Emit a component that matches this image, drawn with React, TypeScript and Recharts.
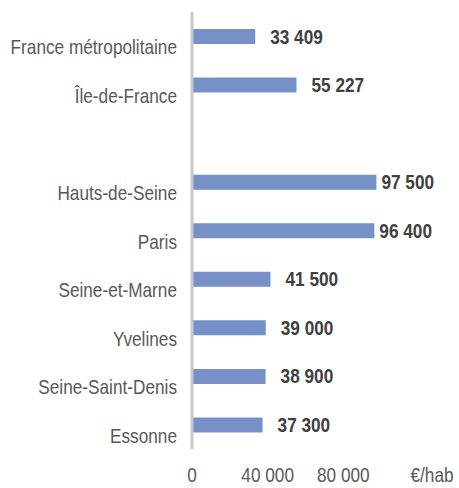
import { BarChart, Bar, XAxis, YAxis, LabelList } from "recharts"

const categories = [
    "France métropolitaine",
    "Île-de-France",
    "",
    "Hauts-de-Seine",
    "Paris",
    "Seine-et-Marne",
    "Yvelines",
    "Seine-Saint-Denis",
    "Essonne",
]
const values = [33409, 55227, null, 97500, 96400, 41500, 39000, 38900, 37300]
const xTicks = [0, 40000, 80000, 120000]
const unitLabel = "€/hab"

const data = categories.map((name, i) => ({ name, value: values[i] }))

// Arial Narrow look: Liberation Sans squeezed horizontally
const FONT = '"Liberation Sans", Arial, sans-serif'
const SQUEEZE = 0.82

const fmt = (v: number) => String(v).replace(/\B(?=(\d{3})+(?!\d))/g, " ")

const NarrowText = ({ x, y, anchor, color, bold, children }: any) => (
    <text
        transform={`translate(${x},${y}) scale(${SQUEEZE},1)`}
        textAnchor={anchor}
        dominantBaseline="central"
        fill={color}
        fontWeight={bold ? "bold" : "normal"}
        fontSize={21}
        fontFamily={FONT}
    >
        {children}
    </text>
)

const ValueLabel = (props: any) => {
    const { x, y, width, height, value } = props
    if (value == null) return null
    // the two longest bars carry their label closer to the bar end
    const gap = width > 170 ? 5 : 15
    return (
        <NarrowText x={x + width + gap} y={y + height / 2} anchor="start" color="#404040" bold>
            {fmt(value)}
        </NarrowText>
    )
}

const XTick = (props: any) => {
    const { x, y, payload } = props
    const isUnit = payload.value === xTicks[xTicks.length - 1]
    return (
        <NarrowText x={isUnit ? x + 13 : x} y={y + 10} anchor="middle" color="#595959">
            {isUnit ? unitLabel : fmt(payload.value)}
        </NarrowText>
    )
}

// category names sit a little below their bars, as in the source
const YTick = (props: any) => {
    const { x, y, payload } = props
    return (
        <NarrowText x={x} y={y + 11} anchor="end" color="#595959">
            {payload.value}
        </NarrowText>
    )
}

export default function App() {
    return (
        <div style={{ position: "absolute", left: 0, top: 0, width: 459, height: 488, background: "#fff" }}>
            <BarChart
                width={459}
                height={488}
                data={data}
                layout="vertical"
                margin={{ top: 12, right: 40, left: 0, bottom: 9 }}
            >
                <XAxis
                    type="number"
                    domain={[0, 120000]}
                    ticks={xTicks}
                    axisLine={false}
                    tickLine={false}
                    tickSize={0}
                    tickMargin={16}
                    height={30}
                    tick={<XTick />}
                    interval={0}
                />
                <YAxis
                    type="category"
                    dataKey="name"
                    width={192}
                    interval={0}
                    tickLine={false}
                    tickSize={0}
                    tickMargin={15}
                    axisLine={{ stroke: "#C8C8C8", strokeWidth: 3 }}
                    tick={<YTick />}
                />
                <Bar dataKey="value" fill="#7591C7" barSize={15} isAnimationActive={false}>
                    <LabelList dataKey="value" content={<ValueLabel />} />
                </Bar>
            </BarChart>
        </div>
    )
}
